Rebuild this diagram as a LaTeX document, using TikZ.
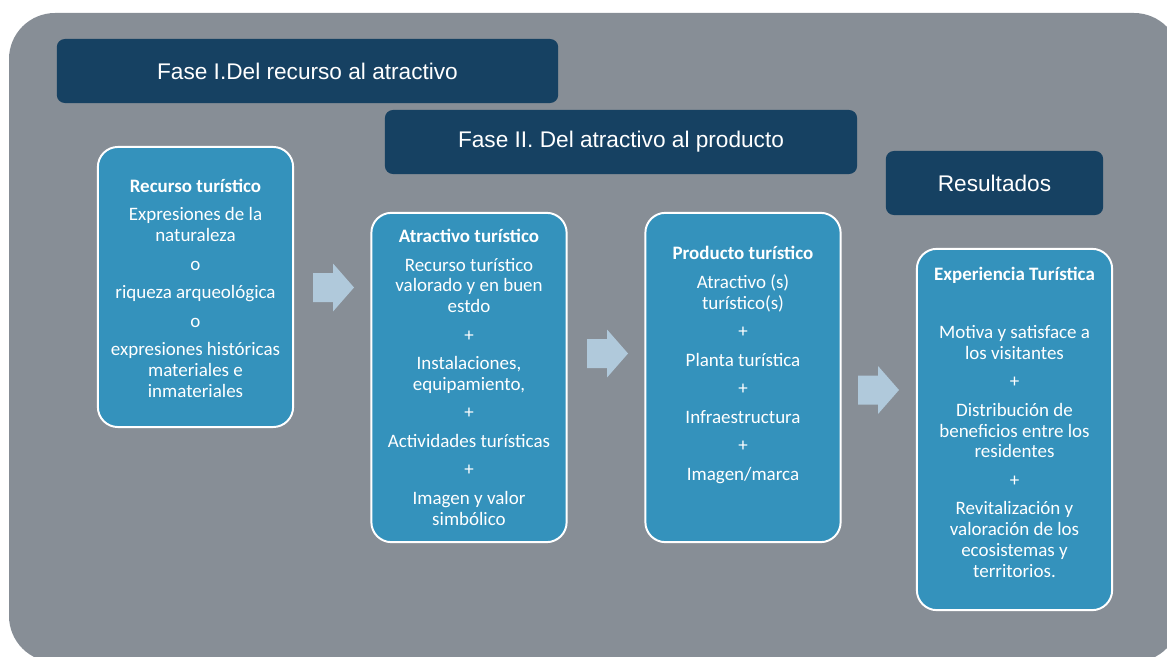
\documentclass[tikz,border=0pt]{standalone}
\usepackage{fontspec}
\newfontfamily\cuerpo{Carlito}
\newfontfamily\fasefont{Liberation Sans}
\usetikzlibrary{positioning}
\definecolor{fondo}{RGB}{135,142,150}
\definecolor{marino}{RGB}{22,65,98}
\definecolor{azul}{RGB}{52,146,188}
\definecolor{flechaazul}{RGB}{176,201,219}
\tikzset{
  fase/.style={fill=marino, rounded corners=0.2cm, minimum height=1.6cm, text=white,
    font=\fasefont\fontsize{16.1}{19}\selectfont},
  caja/.style={draw=white, line width=1.4pt, fill=azul, rounded corners=0.5cm, minimum width=4.88cm},
  texto/.style={anchor=base, align=center, text=white, inner sep=0pt,
    font=\cuerpo\fontsize{13.5}{14.75}\selectfont},
  flecha/.style={fill=flechaazul}
}
\begin{document}
\begin{tikzpicture}[x=0.025cm, y=-0.025cm]
\useasboundingbox (0,0) rectangle (1167,657);
\clip (0,0) rectangle (1167,657);
%% background
  \fill[fondo, rounded corners=1.15cm] (9,13) rectangle (1180,662);
%% phases
  \node[fase, minimum width=12.53cm] (fase1) at (307.5,71) {Fase I.Del recurso al atractivo};
  \node[fase, minimum width=11.8cm] (fase2) at (621,142) {Fase II. Del atractivo al producto};
  \node[fase, minimum width=5.43cm] (result) at (994.5,183) {Resultados};
%% boxes
  \node[caja, minimum height=7cm] (rec) at (195.5,287) {};
  \node[caja, minimum height=8.23cm] (atr) at (469,377.5) {};
  \node[caja, minimum height=8.23cm] (pro) at (743,377.5) {};
  \node[caja, minimum height=9.03cm] (exp) at (1014.5,429.5) {};
%% texts (placed by their last line)
  \node[texto] (rec-txt) at (195.5,397) {\textbf{Recurso turístico}\\[5.3pt]
    Expresiones de la\\ naturaleza\\[5.5pt] o\\[5.5pt] riqueza arqueológica\\[5.5pt] o\\[5.5pt]
    expresiones históricas\\ materiales e\\ inmateriales};
  \node[texto] (atr-txt) at (469,525) {\textbf{Atractivo turístico}\\[5.3pt]
    Recurso turístico\\ valorado y en buen\\ estdo\\[5.5pt] +\\[5.5pt]
    Instalaciones,\\ equipamiento,\\[5.5pt] +\\[5.5pt] Actividades turísticas\\[5.5pt] +\\[5.5pt]
    Imagen y valor\\ simbólico};
  \node[texto] (pro-txt) at (743,480) {\textbf{Producto turístico}\\[5.5pt]
    Atractivo (s)\\ turístico(s)\\[5.5pt] +\\[5.5pt] Planta turística\\[5.5pt] +\\[5.5pt]
    Infraestructura\\[5.5pt] +\\[5.5pt] Imagen/marca};
  \node[texto] (exp-txt) at (1014.5,577) {\textbf{Experiencia Turística}\\[26.3pt]
    Motiva y satisface a\\ los visitantes\\[5.5pt] +\\[5.5pt]
    Distribución de\\ beneficios entre los\\ residentes\\[5.5pt] +\\[5.5pt]
    Revitalización y\\ valoración de los\\ ecosistemas y\\ territorios.};
%% arrows
  \foreach \x/\y in {313/287.5, 587/353.5, 858/390}
    \fill[flecha] (\x,\y) ++(0,-14.5) -- ++(20,0) -- ++(0,-9.5) -- ++(21,24)
      -- ++(-21,24) -- ++(0,-9.5) -- ++(-20,0) -- cycle;
\end{tikzpicture}
\end{document}
